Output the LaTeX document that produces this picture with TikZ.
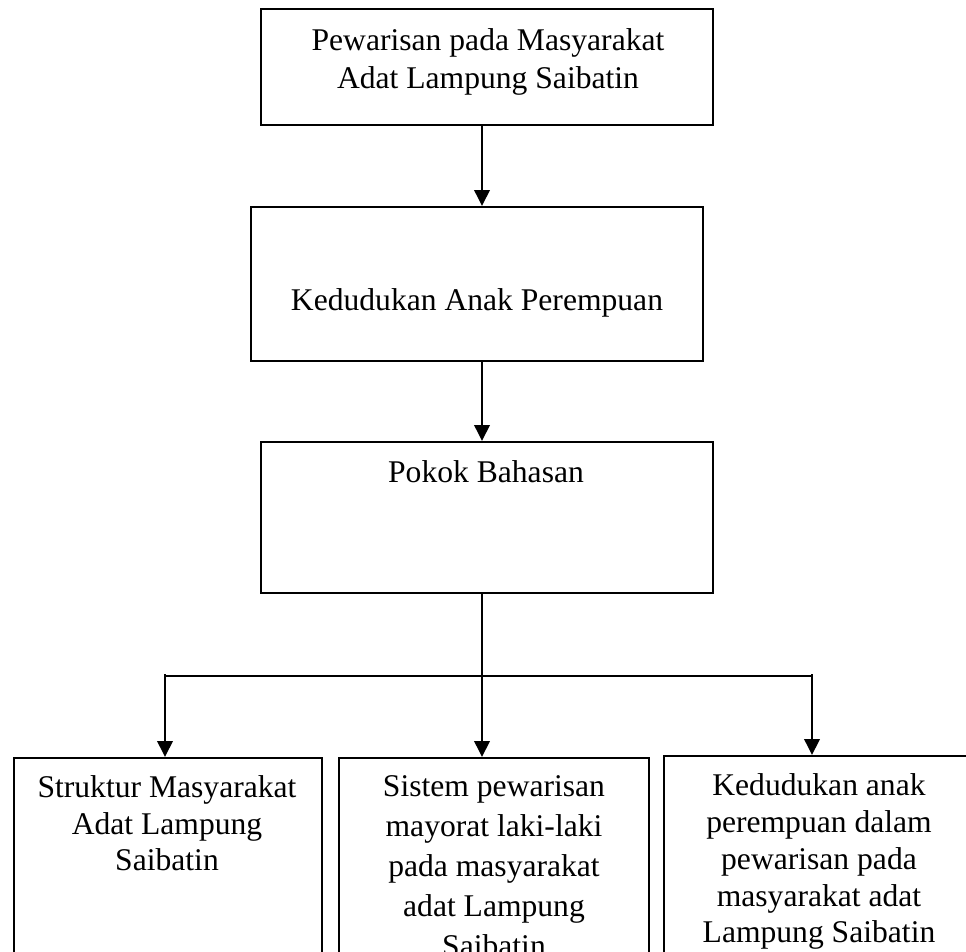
\documentclass[tikz,border=0pt]{standalone}
\usepackage{fontspec}
\setmainfont{Liberation Serif}
\usetikzlibrary{arrows.meta, positioning}

\tikzset{
  kotak/.style={draw, line width=1.5pt, rectangle, inner sep=0pt},
  teks/.style={font=\fontsize{23.7}{27.6}\selectfont, align=center, anchor=north, inner sep=0pt},
  panah/.style={line width=1.9pt, -{Triangle[length=12pt, width=11.5pt]}},
  garis/.style={line width=1.9pt}
}

\begin{document}
\begin{tikzpicture}[x=0.75pt, y=-0.75pt]
\useasboundingbox (0,0) rectangle (966,951);
\clip (0,0) rectangle (966,951);

% kotak atas
\node[kotak, minimum width=339pt, minimum height=87pt] (waris) at (487,67) {};
\node[teks, font=\fontsize{23.7}{28.5}\selectfont] (teksWaris) at (488,28.4) {Pewarisan pada Masyarakat\\Adat Lampung Saibatin};

\node[kotak, minimum width=339pt, minimum height=115.5pt] (kedudukan) at (477,284) {};
\node[teks] (teksKedudukan) at (477,288.4) {Kedudukan Anak Perempuan};

\node[kotak, minimum width=339pt, minimum height=113.25pt] (pokok) at (487,517.5) {};
\node[teks] (teksPokok) at (486,460) {Pokok Bahasan};

% kotak bawah
\node[kotak, minimum width=231pt, minimum height=172.5pt] (struktur) at (168,873) {};
\node[teks] (teksStruktur) at (167,775) {Struktur Masyarakat\\Adat Lampung\\Saibatin};

\node[kotak, minimum width=232.5pt, minimum height=172.5pt] (sistem) at (494,873) {};
\node[teks, font=\fontsize{23.7}{30}\selectfont] (teksSistem) at (494,775) {Sistem pewarisan\\mayorat laki-laki\\pada masyarakat\\adat Lampung\\Saibatin};

\node[kotak, minimum width=231pt, minimum height=172.5pt] (anak) at (818,871) {};
\node[teks] (teksAnak) at (819,773.4) {Kedudukan anak\\perempuan dalam\\pewarisan pada\\masyarakat adat\\Lampung Saibatin};

% panah
\coordinate (poros) at (482,0);
\draw[panah] (waris.south -| poros) -- (kedudukan.north -| poros);
\draw[panah] (kedudukan.south -| poros) -- (pokok.north -| poros);
\draw[panah] (pokok.south -| poros) -- (sistem.north -| poros);

\draw[garis] (165,676) coordinate (cabKiri) -- (812,676) coordinate (cabKanan);
\draw[panah] ([yshift=1.5pt]cabKiri) -- (cabKiri |- struktur.north);
\draw[panah] ([yshift=1.5pt]cabKanan) -- (cabKanan |- anak.north);
\end{tikzpicture}
\end{document}
